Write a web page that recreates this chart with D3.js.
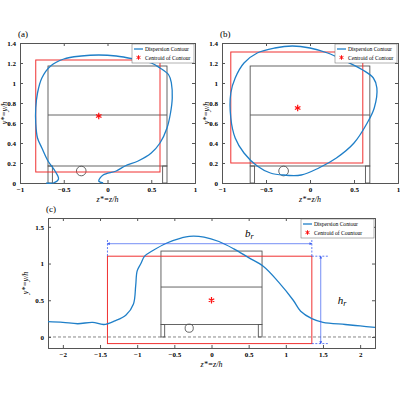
<!DOCTYPE html>
<html><head><meta charset="utf-8">
<script src="https://cdn.jsdelivr.net/npm/d3@7"></script>
<style>body{margin:0;background:#fff}text{font-family:"Liberation Serif",serif}</style>
</head><body><div id="content"></div>
<script>
// contour data
var contourA = [[-0.05,0.0],[-0.1,0.02],[-0.05,0.08],[0.1,0.12],[0.2,0.17],[0.35,0.22],[0.5,0.3],[0.6,0.4],[0.68,0.55],[0.72,0.7],[0.74,0.85],[0.73,1.0],[0.7,1.08],[0.6,1.15],[0.5,1.2],[0.3,1.24],[0.1,1.27],[-0.1,1.28],[-0.3,1.27],[-0.5,1.24],[-0.65,1.17],[-0.75,1.05],[-0.8,0.9],[-0.82,0.75],[-0.82,0.6],[-0.8,0.45],[-0.75,0.35],[-0.68,0.22],[-0.6,0.12],[-0.56,0.04],[-0.62,0.0],[-0.7,0.0]];
var contourB = [[-0.3,0.08],[-0.1,0.08],[0.1,0.15],[0.3,0.25],[0.5,0.4],[0.65,0.6],[0.73,0.75],[0.76,0.95],[0.72,1.05],[0.6,1.13],[0.4,1.22],[0.2,1.3],[0,1.35],[-0.2,1.37],[-0.4,1.35],[-0.6,1.3],[-0.75,1.2],[-0.85,1.05],[-0.9,0.9],[-0.9,0.65],[-0.85,0.45],[-0.75,0.3],[-0.6,0.17],[-0.45,0.1],[-0.3,0.08]];
var contourC = [[-2.2,0.21],[-2,0.2],[-1.8,0.18],[-1.6,0.2],[-1.45,0.17],[-1.3,0.22],[-1.15,0.3],[-1.05,0.45],[-1.02,0.7],[-1,0.9],[-0.95,1.0],[-0.9,1.1],[-0.8,1.17],[-0.6,1.28],[-0.4,1.35],[-0.3,1.37],[-0.1,1.36],[0.1,1.3],[0.3,1.2],[0.5,1.08],[0.7,0.96],[0.9,0.75],[1.1,0.5],[1.2,0.35],[1.35,0.25],[1.5,0.2],[1.8,0.17],[2.0,0.15],[2.2,0.13]];
var rectA = [-0.82,0.6,0.11,1.23], centA = [-0.1,0.67];
var rectB = [-0.9,0.6,0.2,1.31], centB = [-0.14,0.75];
var rectC = [-1.4,1.35,-0.09,1.1], centC = [0,0.5];
var ticksAB_x = [-1,-0.5,0,0.5,1], ticksAB_y = [0,0.2,0.4,0.6,0.8,1,1.2,1.4];
var ticksC_x = [-2,-1.5,-1,-0.5,0,0.5,1,1.5,2], ticksC_y = [0,0.5,1,1.5];

var svg = d3.select("#content").append("svg").attr("width",400).attr("height",400);

function drawPanel(o) {
	var x = d3.scaleLinear().domain(o.xd).range([o.l,o.r]);
	var y = d3.scaleLinear().domain(o.yd).range([o.b,o.t]);
	var g = svg.append("g");
	var fmt = function(d){ return d3.format("")(d); };
	g.append("g").attr("transform","translate(0,"+o.b+")")
		.call(d3.axisBottom(x).tickValues(o.xt).tickSize(-3).tickPadding(4).tickFormat(fmt));
	g.append("g").attr("transform","translate("+o.l+",0)")
		.call(d3.axisLeft(y).tickValues(o.yt).tickSize(-3).tickPadding(4).tickFormat(fmt));
	g.append("g").attr("transform","translate(0,"+o.t+")")
		.call(d3.axisTop(x).tickValues(o.xt).tickSize(-3).tickFormat(""));
	g.append("g").attr("transform","translate("+o.r+",0)")
		.call(d3.axisRight(y).tickValues(o.yt).tickSize(-3).tickFormat(""));
	g.selectAll(".domain").attr("stroke","#555");
	g.selectAll(".tick line").attr("stroke","#555");
	g.selectAll(".tick text").attr("font-size",7).attr("fill","#000").style("font-weight","bold");

	// car
	var car = g.append("g").attr("fill","none").attr("stroke","#555").attr("stroke-width",0.9);
	car.append("rect").attr("x",x(-0.68)).attr("y",y(1.17)).attr("width",x(0.68)-x(-0.68)).attr("height",y(0.17)-y(1.17));
	car.append("line").attr("x1",x(-0.68)).attr("x2",x(0.68)).attr("y1",y(0.68)).attr("y2",y(0.68));
	[[-0.68,-0.63],[0.63,0.68]].forEach(function(w){
		car.append("rect").attr("x",x(w[0])).attr("y",y(0.17)).attr("width",x(w[1])-x(w[0])).attr("height",y(0)-y(0.17));
	});
	car.append("circle").attr("cx",x(-0.3)).attr("cy",y(0.12)).attr("r",Math.abs(x(0.055)-x(0)));

	if (o.dash) g.append("line").attr("x1",o.l).attr("x2",o.r).attr("y1",y(0)).attr("y2",y(0))
		.attr("stroke","#555").attr("stroke-dasharray","3,2").attr("stroke-width",0.7);

	var rc = o.rect;
	g.append("rect").attr("x",x(rc[0])).attr("y",y(rc[3])).attr("width",x(rc[1])-x(rc[0])).attr("height",y(rc[2])-y(rc[3]))
		.attr("fill","none").attr("stroke","#f03030").attr("stroke-width",1);

	g.append("path").datum(o.line)
		.attr("d",d3.line().x(function(d){return x(d[0]);}).y(function(d){return y(d[1]);}).curve(d3.curveCatmullRom))
		.attr("fill","none").attr("stroke","#1f7fc8").attr("stroke-width",1.3);

	g.append("path").attr("d",d3.symbol(d3.symbolAsterisk,28)()).attr("transform","translate("+x(o.cent[0])+","+y(o.cent[1])+")")
		.attr("stroke","#ff1010").attr("stroke-width",1.2);

	// legend
	var lw = o.lw, lx = o.r - lw - 1, ly = o.t + 1;
	var lg = g.append("g");
	lg.append("rect").attr("x",lx).attr("y",ly).attr("width",lw).attr("height",19).attr("fill","#fff").attr("stroke","#666").attr("stroke-width",0.5);
	lg.append("line").attr("x1",lx+2).attr("x2",lx+11).attr("y1",ly+5).attr("y2",ly+5).attr("stroke","#1f7fc8").attr("stroke-width",1.3);
	lg.append("path").attr("d",d3.symbol(d3.symbolAsterisk,14)()).attr("transform","translate("+(lx+6.5)+","+(ly+13.5)+")").attr("stroke","#ff1010");
	lg.append("text").attr("x",lx+13).attr("y",ly+7).attr("font-size",5.6).text("Dispersion Contour");
	lg.append("text").attr("x",lx+13).attr("y",ly+15.5).attr("font-size",5.6).text(o.cLabel);

	g.append("text").attr("x",o.l-2).attr("y",o.t-6).attr("font-size",9).text(o.tag);
	g.append("text").attr("x",(o.l+o.r)/2).attr("y",o.b+19).attr("text-anchor","middle").attr("font-size",8).style("font-style","italic").text("z*=z/h");
	g.append("text").attr("transform","translate("+(o.l-o.yo)+","+((o.t+o.b)/2)+") rotate(-90)").attr("text-anchor","middle").attr("font-size",8).style("font-style","italic").text("y*=y/h");
	return {x:x, y:y, g:g};
}

drawPanel({l:20,r:195,t:43,b:183,xd:[-1,1],yd:[0,1.4],xt:ticksAB_x,yt:ticksAB_y,line:contourA,rect:rectA,cent:centA,tag:"(a)",lw:62,cLabel:"Centroid of Contour",yo:13});
drawPanel({l:222,r:398,t:43,b:183,xd:[-1,1],yd:[0,1.4],xt:ticksAB_x,yt:ticksAB_y,line:contourB,rect:rectB,cent:centB,tag:"(b)",lw:62,cLabel:"Centroid of Contour",yo:13});
var c = drawPanel({l:48,r:375,t:218,b:348,xd:[-2.2,2.2],yd:[-0.15,1.62],xt:ticksC_x,yt:ticksC_y,line:contourC,rect:rectC,cent:centC,tag:"(c)",lw:73,cLabel:"Centroid of Countour",dash:true,yo:20});

// dimension arrows in (c)
var x = c.x, y = c.y, g = c.g, blue = "#3a5cf0";
svg.append("defs").append("marker").attr("id","ah").attr("viewBox","0 0 6 6").attr("refX",5).attr("refY",3)
	.attr("markerWidth",4).attr("markerHeight",4).attr("orient","auto-start-reverse")
	.append("path").attr("d","M0,0L6,3L0,6z").attr("fill",blue);
g.append("line").attr("x1",x(-1.4)).attr("x2",x(1.35)).attr("y1",y(1.27)).attr("y2",y(1.27)).attr("stroke",blue).attr("stroke-width",0.7)
	.attr("marker-start","url(#ah)").attr("marker-end","url(#ah)");
[-1.4,1.35].forEach(function(v){
	g.append("line").attr("x1",x(v)).attr("x2",x(v)).attr("y1",y(1.32)).attr("y2",y(1.1)).attr("stroke",blue).attr("stroke-dasharray","2,1.5").attr("stroke-width",0.8);
});
g.append("line").attr("x1",x(1.47)).attr("x2",x(1.47)).attr("y1",y(1.1)).attr("y2",y(-0.09)).attr("stroke",blue).attr("stroke-width",0.7)
	.attr("marker-start","url(#ah)").attr("marker-end","url(#ah)");
[1.1,-0.09].forEach(function(v){
	g.append("line").attr("x1",x(1.35)).attr("x2",x(1.58)).attr("y1",y(v)).attr("y2",y(v)).attr("stroke",blue).attr("stroke-dasharray","2,1.5").attr("stroke-width",0.8);
});
g.append("text").attr("x",x(0.45)).attr("y",y(1.36)).attr("font-size",11).style("font-style","italic").text("b").append("tspan").attr("font-size",8).attr("dy",2).text("r");
g.append("text").attr("x",x(1.7)).attr("y",y(0.45)).attr("font-size",11).style("font-style","italic").text("h").append("tspan").attr("font-size",8).attr("dy",2).text("r");
</script></body></html>
